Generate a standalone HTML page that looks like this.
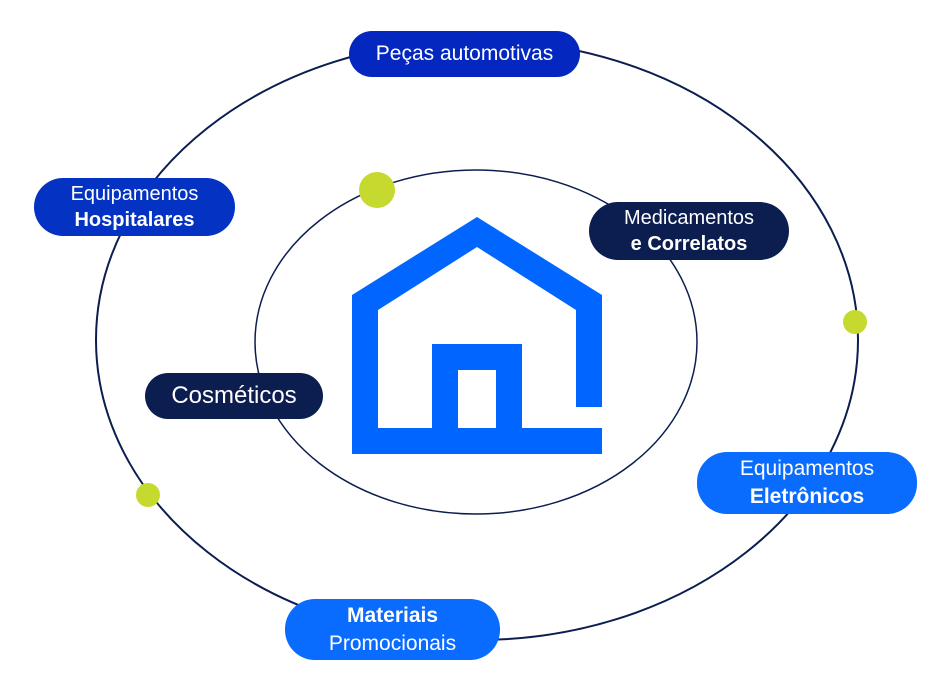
<!DOCTYPE html>
<html><head><meta charset="utf-8"><style>
body{margin:0;width:951px;height:691px;background:#fff;position:relative;overflow:hidden;font-family:"Liberation Sans",sans-serif}
.p{position:absolute;color:#fff;display:flex;flex-direction:column;align-items:center;justify-content:center;text-align:center;border-radius:30px;line-height:26px;font-size:20px}
b{font-weight:bold}
</style></head><body>
<svg width="951" height="691" style="position:absolute;left:0;top:0">
<ellipse cx="477" cy="340" rx="381" ry="300" fill="none" stroke="#0c1d4f" stroke-width="2"/>
<ellipse cx="476" cy="342" rx="221" ry="172" fill="none" stroke="#0c1d4f" stroke-width="1.5"/>
<path fill="#0066ff" fill-rule="evenodd" d="M352,295 L477,217 L602,295 L602,407 L576,407 L576,310 L477,247 L378,310 L378,428 L432,428 L432,344 L522,344 L522,428 L602,428 L602,454 L352,454 Z M458,370 L496,370 L496,428 L458,428 Z"/>
<circle cx="377" cy="190" r="18" fill="#c6d92e"/>
<circle cx="855" cy="322" r="12" fill="#c6d92e"/>
<circle cx="148" cy="495" r="12" fill="#c6d92e"/>
</svg>
<div class="p" style="left:349px;top:31px;width:231px;height:46px;background:#0327bf;font-size:21px">Peças automotivas</div>
<div class="p" style="left:34px;top:178px;width:201px;height:58px;background:#0433c4">Equipamentos<b>Hospitalares</b></div>
<div class="p" style="left:589px;top:202px;width:200px;height:58px;background:#0c1d4f">Medicamentos<b>e Correlatos</b></div>
<div class="p" style="left:145px;top:373px;width:178px;height:46px;background:#0c1d4f;font-size:24px">Cosméticos</div>
<div class="p" style="left:697px;top:452px;width:220px;height:62px;background:#0a6bff;font-size:21px;line-height:28px">Equipamentos<b>Eletrônicos</b></div>
<div class="p" style="left:285px;top:599px;width:215px;height:61px;background:#0a6bff;font-size:21px;line-height:28px"><b>Materiais</b>Promocionais</div>
</body></html>
